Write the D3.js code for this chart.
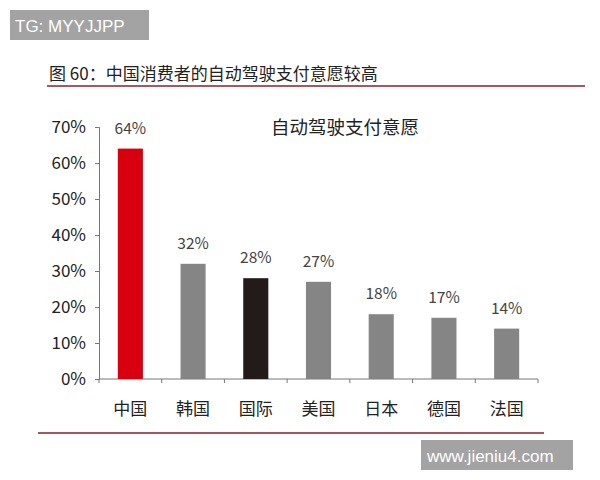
<!DOCTYPE html>
<html><head><meta charset="utf-8">
<script src="https://cdn.jsdelivr.net/npm/d3@7"></script>
<style>body{margin:0;background:#fff}</style>
</head><body><div id="chart"></div>
<script>
var categories = ["中国","韩国","国际","美国","日本","德国","法国"];
var values = [64,32,28,27,18,17,14];
var colors = ["#d8000f","#858585","#231a1a","#858585","#858585","#858585","#858585"];
var yTicks = [0,10,20,30,40,50,60,70];
var font = "'Noto Sans CJK SC', 'Noto Sans', sans-serif";

var svg = d3.select("#chart").append("svg").attr("width",600).attr("height",480);

// watermark top
svg.append("rect").attr("x",10).attr("y",10).attr("width",139).attr("height",30).attr("fill","#a3a3a3");
svg.append("text").attr("x",15).attr("y",32).text("TG: MYYJJPP")
  .style("fill","#fff").style("font-family","Liberation Sans, Arial").style("font-size","17px");

// title
svg.append("text").attr("x",49).attr("y",80).text("图 60：中国消费者的自动驾驶支付意愿较高")
  .style("fill","#222").style("font-family",font).style("font-size","17px");
svg.append("line").attr("x1",47).attr("x2",585).attr("y1",86).attr("y2",86).attr("stroke","#8a1f2b").attr("stroke-width",1.5);

var x = d3.scaleBand().domain(categories).range([99,538]).paddingInner(0.6).paddingOuter(0.3);
var y = d3.scaleLinear().domain([0,70]).range([379,127]);

var yAxis = svg.append("g").attr("transform","translate(99,0)")
  .call(d3.axisLeft(y).tickValues(yTicks).tickFormat(function(d){return d+"%";}).tickSize(4));
yAxis.selectAll("text").style("font-family",font).style("font-size","17px").style("fill","#222").attr("dx","-6");
yAxis.selectAll("line,path").attr("stroke","#777");

var xb = d3.scaleLinear().domain([0,7]).range([99,538]);
var xAxis = svg.append("g").attr("transform","translate(0,379)");
xAxis.append("line").attr("x1",99).attr("x2",538).attr("stroke","#777");
xAxis.selectAll("line.t").data(d3.range(8)).enter().append("line")
  .attr("x1",function(d){return xb(d);}).attr("x2",function(d){return xb(d);})
  .attr("y1",0).attr("y2",4).attr("stroke","#777");

svg.selectAll("rect.bar").data(values).enter().append("rect")
  .attr("x",function(d,i){return x(categories[i]);})
  .attr("width",x.bandwidth())
  .attr("y",function(d){return y(d);})
  .attr("height",function(d){return y(0)-y(d);})
  .attr("fill",function(d,i){return colors[i];});

svg.selectAll("text.val").data(values).enter().append("text")
  .attr("x",function(d,i){return x(categories[i])+x.bandwidth()/2;})
  .attr("y",function(d){return y(d)-15;})
  .attr("text-anchor","middle").text(function(d){return d+"%";})
  .style("font-family",font).style("font-size","15.5px").style("fill","#444");

svg.selectAll("text.cat").data(categories).enter().append("text")
  .attr("x",function(d){return x(d)+x.bandwidth()/2;})
  .attr("y",415).attr("text-anchor","middle").text(function(d){return d;})
  .style("font-family",font).style("font-size","17px").style("fill","#222");

svg.append("text").attr("x",345).attr("y",134).attr("text-anchor","middle").text("自动驾驶支付意愿")
  .style("font-family",font).style("font-size","18.5px").style("fill","#222");

svg.append("line").attr("x1",38).attr("x2",544).attr("y1",433).attr("y2",433).attr("stroke","#8a1f2b").attr("stroke-width",1.5);

svg.append("rect").attr("x",421).attr("y",440).attr("width",152).attr("height",30).attr("fill","#a3a3a3");
svg.append("text").attr("x",427).attr("y",462).text("www.jieniu4.com")
  .style("fill","#fff").style("font-family","Liberation Sans, Arial").style("font-size","17px");
</script></body></html>
